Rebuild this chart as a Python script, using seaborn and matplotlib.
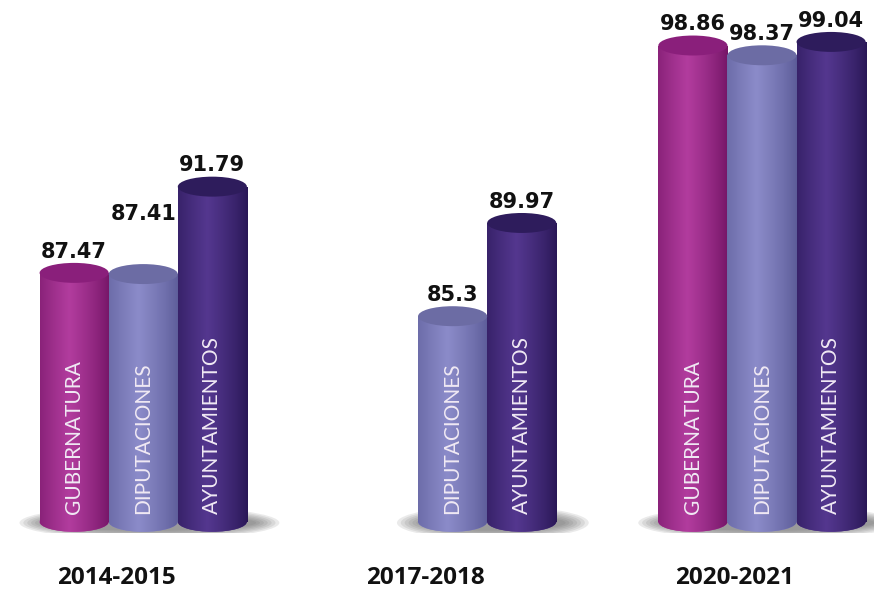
import matplotlib
matplotlib.use("Agg")
import matplotlib.pyplot as plt
import seaborn as sns
import numpy as np
import pandas as pd
from matplotlib.patches import Ellipse
from matplotlib.colors import LinearSegmentedColormap

# data
periods = ["2014-2015", "2017-2018", "2020-2021"]
offices = ["GUBERNATURA", "DIPUTACIONES", "AYUNTAMIENTOS"]
gubernatura = [87.47, None, 98.86]
diputaciones = [87.41, 85.3, 98.37]
ayuntamientos = [91.79, 89.97, 99.04]

rows = []
for vals, office in zip([gubernatura, diputaciones, ayuntamientos], offices):
    for p, v in zip(periods, vals):
        if v is not None:
            rows.append({"periodo": p, "cargo": office, "valor": v})
df = pd.DataFrame(rows)

# colours: (edge, light centre, top cap)
shades = {
    "GUBERNATURA": ("#741566", "#b23c9e", "#8a1f7b"),
    "DIPUTACIONES": ("#5c5c98", "#8b8bc9", "#6c6ca4"),
    "AYUNTAMIENTOS": ("#291756", "#54378f", "#2e1c5c"),
}
palette = {k: v[1] for k, v in shades.items()}

base = 75.0
sns.set_style("white")
fig = plt.figure(figsize=(8.74, 5.9), dpi=100)
ax = fig.add_axes([0, 0.097, 1, 0.903])

sns.barplot(data=df, x="periodo", y="valor", hue="cargo", order=periods,
            hue_order=offices, palette=palette, width=0.67, gap=0,
            legend=False, ax=ax)

ax.set_xlim(-0.463, 2.362)
ax.set_ylim(74.45, 101.14)
sns.despine(ax=ax, left=True, bottom=True)
ax.set_yticks([])
ax.set_ylabel("")
ax.set_xlabel("")
ax.set_xticks([i - 0.088 for i in range(len(periods))], labels=periods)
ax.tick_params(axis="x", length=0, pad=24)
for t in ax.get_xticklabels():
    t.set_fontfamily(["Open Sans", "DejaVu Sans"])
    t.set_fontweight("bold")
    t.set_fontsize(17.5)
    t.set_color("#111111")

# soft shadows under each group
for i in range(len(periods)):
    n = (df["periodo"] == periods[i]).sum()
    cx = i + 0.02 if n == 3 else i + 0.13
    for k in range(7):
        e = Ellipse((cx, base - 0.05),
                    width=(0.84 if n == 3 else 0.62) - k * 0.025,
                    height=1.7 - k * 0.15, facecolor="#5a5a5a",
                    alpha=0.12, edgecolor="none", zorder=0.5)
        ax.add_patch(e)

label_lift = {("2014-2015", "DIPUTACIONES"): 28}

grad = np.linspace(0, 1, 64)
profile = np.clip(1 - np.abs(grad - 0.42) / 0.58, 0, 1) ** 0.8
for container, office in zip(ax.containers, offices):
    edge, light, top = shades[office]
    cmap = LinearSegmentedColormap.from_list(office, [edge, light])
    sub = df[df["cargo"] == office].set_index("periodo")["valor"]
    present = [p for p in periods if p in sub.index]
    for bar, p in zip(container.patches, present):
        h = bar.get_height()
        x0, w = bar.get_x(), bar.get_width()
        bar.set_y(base)
        bar.set_height(h - base)
        bar.set_edgecolor("none")
        bar.set_zorder(2)
        img = ax.imshow(profile[np.newaxis, :], cmap=cmap, aspect="auto",
                        extent=(x0, x0 + w, base, h), zorder=2.1,
                        vmin=0, vmax=1)
        img.set_clip_path(bar)
        bottom = Ellipse((x0 + w / 2, base), w, 1.0, facecolor=light,
                         edgecolor="none", zorder=1.9)
        ax.add_patch(bottom)
        img2 = ax.imshow(profile[np.newaxis, :], cmap=cmap, aspect="auto",
                         extent=(x0, x0 + w, base - 0.5, base + 0.5),
                         zorder=1.95, vmin=0, vmax=1)
        img2.set_clip_path(bottom)
        cap = Ellipse((x0 + w / 2, h), w, 1.0, facecolor=top,
                      edgecolor="none", zorder=2.3)
        ax.add_patch(cap)
        ax.annotate(f"{h:g}", xy=(x0 + w / 2, h + 0.5),
                    xytext=(0, 1 + label_lift.get((p, office), 0)),
                    textcoords="offset points", ha="center", va="bottom",
                    fontsize=15, fontweight="bold", color="#111111",
                    family="DejaVu Sans", zorder=3, annotation_clip=False)
        ax.text(x0 + w / 2, base + 0.4, office, rotation=90, ha="center",
                va="bottom", color="#f0e9f4", fontsize=15,
                family=["Lato", "DejaVu Sans"], zorder=3)

fig.savefig("out.png", dpi=100)
